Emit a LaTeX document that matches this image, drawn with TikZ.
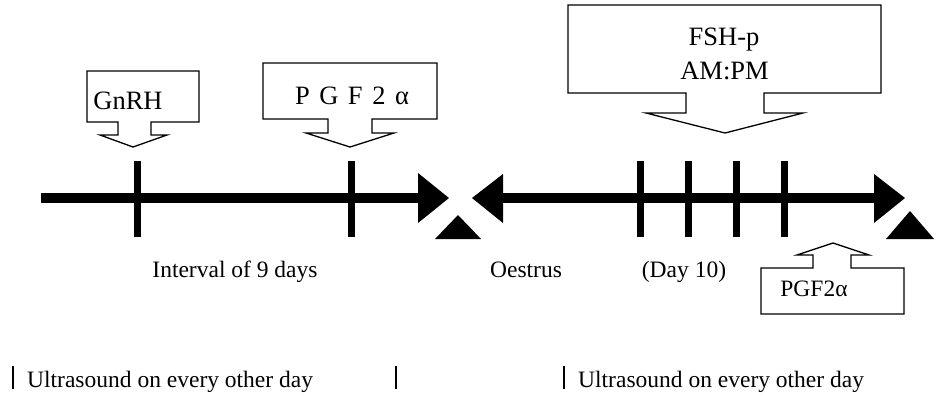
\documentclass[tikz,border=0pt]{standalone}
\usepackage{fontspec}
\setmainfont{Liberation Serif}
\begin{document}
\begin{tikzpicture}[x=1pt,y=-1pt,
  callout/.style={draw=black,line width=1.3pt,fill=white,line join=miter},
  bigtxt/.style={font=\fontsize{26.5}{30}\selectfont,inner sep=0pt,anchor=base},
  txt/.style={font=\fontsize{23.5}{27}\selectfont,inner sep=0pt,anchor=base},
  timeline/.style={line width=10pt},
  tick/.style={line width=7pt},
  head/.style={fill=black},
  bar/.style={line width=2pt}]
\useasboundingbox (0,0) rectangle (936,400);

% ---- timeline 1 ----
\coordinate (a1) at (41,198);
\coordinate (a2) at (420,198);
\draw[timeline] (a1) -- (a2);
\fill[head] (418,173) -- (449,198) -- (418,223) -- cycle;
\foreach \x in {137.5,351} \draw[tick] (\x,161) -- (\x,237);

% ---- timeline 2 ----
\coordinate (b1) at (501,198);
\coordinate (b2) at (876,198);
\draw[timeline] (b1) -- (b2);
\fill[head] (503,174) -- (472,198) -- (503,223) -- cycle;
\fill[head] (874,174) -- (905,198) -- (874,223) -- cycle;
\foreach \x in {640,688.5,736.5,784} \draw[tick] (\x,161) -- (\x,237);

% ---- small markers ----
\fill[head] (458,215) -- (481,239) -- (435,239) -- cycle;
\fill[head] (910,211) -- (934,239) -- (886,239) -- cycle;

% ---- callouts ----
\draw[callout] (87,71) -- (199,71) -- (199,122) -- (151,122) -- (151,135)
  -- (167,135) -- (133,147) -- (100,135) -- (118,135) -- (118,122) -- (87,122) -- cycle;
\node[bigtxt] (gnrh) at (128,109) {GnRH};

\draw[callout] (263,63) -- (437,63) -- (437,119) -- (372,119) -- (372,133)
  -- (394,133) -- (350,147) -- (306,133) -- (328,133) -- (328,119) -- (263,119) -- cycle;
\node[bigtxt] (pgfa) at (352,104) {P\hspace{0.36em}G\hspace{0.36em}F\hspace{0.36em}2\hspace{0.36em}α};

\draw[callout] (568,5) -- (881,5) -- (881,93) -- (764,93) -- (764,113)
  -- (803,113) -- (725,133) -- (646,113) -- (686,113) -- (686,93) -- (568,93) -- cycle;
\node[bigtxt] (fsh) at (724,45) {FSH-p};
\node[bigtxt] (ampm) at (724.5,79) {AM:PM};

\draw[callout] (761,314) -- (904,314) -- (904,268) -- (851,268) -- (851,255)
  -- (869,255) -- (833,243) -- (797,255) -- (813,255) -- (813,268) -- (761,268) -- cycle;
\node[txt] (pgfb) at (814,296) {PGF2α};

% ---- labels ----
\node[txt] (interval) at (235,277) {Interval of 9 days};
\node[txt] (oestrus) at (526,277) {Oestrus};
\node[txt] (day) at (684,277) {(Day 10)};

% ---- ultrasound periods ----
\draw[bar] (12.5,366) -- (12.5,389);
\draw[bar] (396,366) -- (396,389);
\draw[bar] (564,366) -- (564,389);
\node[txt,anchor=base west] (us1) at (27,387) {Ultrasound on every other day};
\node[txt,anchor=base west] (us2) at (578,387) {Ultrasound on every other day};
\end{tikzpicture}
\end{document}
